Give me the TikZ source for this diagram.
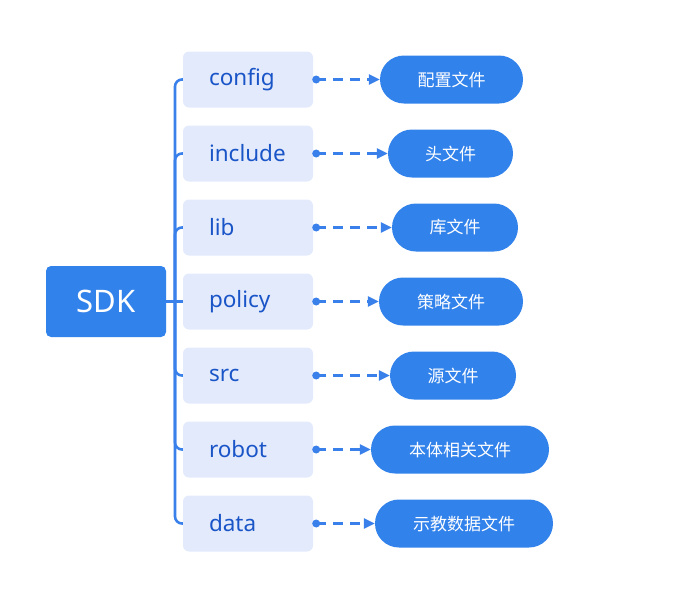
\documentclass[tikz,border=0pt]{standalone}
\usepackage{fontspec}
\setmainfont{Noto Sans}
\newfontfamily\cjk{Noto Sans CJK SC}
\usetikzlibrary{arrows.meta,positioning}
\definecolor{sdkblue}{HTML}{3282EB}
\definecolor{boxfill}{HTML}{E3EAFC}
\definecolor{textblue}{HTML}{1A55C8}
\definecolor{linkblue}{HTML}{3A80EA}
\tikzset{
	root/.style={fill=sdkblue, rounded corners=5pt, minimum width=120pt, minimum height=71pt, text=white, font=\fontsize{31}{31}\selectfont},
	folder/.style={fill=boxfill, rounded corners=6pt, minimum height=56pt, text width=78pt, inner xsep=26pt, align=left, text=textblue, font=\fontsize{22.5}{22.5}\selectfont},
	filetag/.style={fill=sdkblue, rounded corners=24pt, minimum height=48pt, text=white, font=\cjk\fontsize{17}{17}\selectfont},
	link/.style={linkblue, line width=2.6pt, rounded corners=7pt},
	ref/.style={linkblue, line width=2.6pt, dash pattern=on 10pt off 7pt, -{Triangle[length=11pt,width=10pt]}}
}

\begin{document}
\begin{tikzpicture}[x=1pt,y=-1pt]
			\useasboundingbox (0,0) rectangle (691,614);
			\node[root] (sdk) at (106,301.5) {SDK};
			\node[folder] (config) at (248,79.5) {config};
			\node[folder] (include) at (248,153.5) {include};
			\node[folder] (lib) at (248,227.5) {lib};
			\node[folder] (policy) at (248,301.5) {policy};
			\node[folder] (src) at (248,375.5) {src};
			\node[folder] (robot) at (248,449.5) {robot};
			\node[folder] (data) at (248,523.5) {data};
			\node[filetag, minimum width=143pt] (configfile) at (451.5,79.5) {配置文件};
			\node[filetag, minimum width=125pt] (includefile) at (450.5,153.5) {头文件};
			\node[filetag, minimum width=126pt] (libfile) at (455,227.5) {库文件};
			\node[filetag, minimum width=144pt] (policyfile) at (451,301.5) {策略文件};
			\node[filetag, minimum width=126pt] (srcfile) at (453,375.5) {源文件};
			\node[filetag, minimum width=178pt] (robotfile) at (460,449.5) {本体相关文件};
			\node[filetag, minimum width=178pt] (datafile) at (464,523.5) {示教数据文件};
			% bracket from SDK to the folders
			\coordinate (bus) at (175,301.5);
			\draw[link] (sdk) -- (policy);
			\draw[link] (config.west) -| (bus);
			\draw[link] (include.west) -| (bus);
			\draw[link] (lib.west) -| (bus);
			\draw[link] (src.west) -| (bus);
			\draw[link] (robot.west) -| (bus);
			\draw[link] (data.west) -| (bus);
			% dashed arrows to the file tags
			\coordinate (configdot) at ([xshift=3pt]config.east);
			\coordinate (includedot) at ([xshift=3pt]include.east);
			\coordinate (libdot) at ([xshift=3pt]lib.east);
			\coordinate (policydot) at ([xshift=3pt]policy.east);
			\coordinate (srcdot) at ([xshift=3pt]src.east);
			\coordinate (robotdot) at ([xshift=3pt]robot.east);
			\coordinate (datadot) at ([xshift=3pt]data.east);
			\fill[linkblue] (configdot) circle (4pt);
			\fill[linkblue] (includedot) circle (4pt);
			\fill[linkblue] (libdot) circle (4pt);
			\fill[linkblue] (policydot) circle (4pt);
			\fill[linkblue] (srcdot) circle (4pt);
			\fill[linkblue] (robotdot) circle (4pt);
			\fill[linkblue] (datadot) circle (4pt);
			\draw[ref] (configdot) -- (configfile);
			\draw[ref] (includedot) -- (includefile);
			\draw[ref] (libdot) -- (libfile);
			\draw[ref] (policydot) -- (policyfile);
			\draw[ref] (srcdot) -- (srcfile);
			\draw[ref] (robotdot) -- (robotfile);
			\draw[ref] (datadot) -- (datafile);
		\end{tikzpicture}
\end{document}
